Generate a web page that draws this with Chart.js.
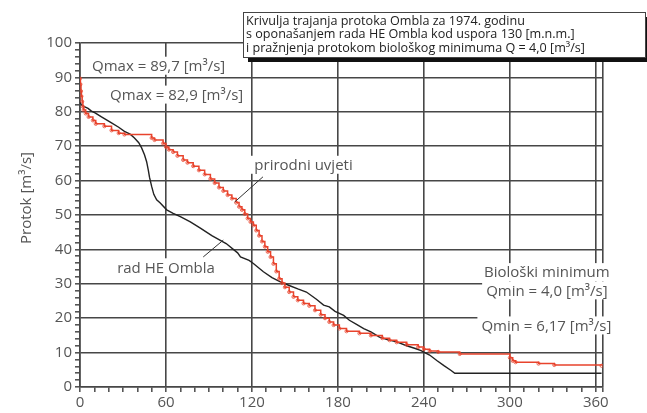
<!DOCTYPE html>
<html>
<head>
<meta charset="utf-8">
<script src="https://cdn.jsdelivr.net/npm/chart.js@4.4.1/dist/chart.umd.min.js"></script>
<style>
  html, body { margin: 0; padding: 0; background: #fff; }
  #wrap { width: 647px; height: 413px; position: relative; }
</style>
</head>
<body>
<div id="wrap"><canvas id="durationChart"></canvas></div>
<script>
// prirodni uvjeti (red, stepped) - day of year / discharge m3/s
const prirodniDays = [0, 0.3, 0.7, 1, 1.5, 2, 2.5, 4, 6, 9, 11, 17, 22, 27, 31, 50, 52, 58, 60, 62, 65, 68, 72, 75, 79, 83, 87, 91, 94, 97, 100, 103, 106, 109, 111, 113, 115, 117, 119, 121, 123, 125, 127, 129, 131, 133, 135, 137, 139, 141, 143, 146, 149, 152, 156, 160, 164, 168, 171, 174, 177, 181, 186, 195, 203, 211, 216, 221, 228, 236, 240, 244, 250, 265, 300, 302, 304, 320, 331, 364];
const prirodniQ = [89.7, 88, 86, 84.5, 83, 81.5, 80.5, 79.5, 78.5, 77.5, 76.5, 75.8, 74.6, 73.8, 73.4, 72.4, 71.8, 70.8, 69.8, 69, 68.3, 67.2, 66, 65.2, 64.2, 63, 61.8, 60.5, 59.3, 58, 57, 55.8, 54.8, 53.6, 52.4, 51.5, 50.3, 49, 48, 47, 45.5, 44, 42.3, 40.8, 39.3, 37.8, 35.8, 33.6, 31.5, 30.2, 29, 27.6, 26.2, 25.2, 24.3, 23.6, 22.3, 21, 20, 18.9, 18, 17, 16.2, 15.6, 15, 14.2, 13.6, 13, 12.3, 11.6, 11, 10.5, 10.2, 9.6, 8.5, 7.6, 7.2, 6.8, 6.4, 6.17];

// rad HE Ombla (black)
const radDays = [0, 1, 3, 5.6, 8, 10.5, 15, 22, 27, 31, 35, 38, 41, 43, 45, 46.5, 47.7, 48.5, 50, 51.5, 53.5, 56, 60.5, 65, 70, 77, 84, 92, 102, 110, 112, 118, 121, 128, 134, 139.5, 146, 152, 158, 165, 170, 174, 178, 184, 188, 193, 198, 203, 209, 215, 221, 228, 234, 238, 244, 249, 254, 259, 261.6, 364];
const radQ = [82.9, 82, 81.5, 81, 80.2, 79.7, 78.5, 76.8, 75.5, 74.3, 73.5, 72.4, 71, 69.5, 67.5, 65.5, 63, 61, 58.3, 56, 54.4, 53.5, 51.5, 50.5, 49.5, 48, 46.2, 44, 41.7, 39, 37.8, 36.8, 35.9, 33.5, 31.8, 30.6, 29.5, 28.5, 27.6, 25.5, 23.8, 23.3, 22, 20.8, 19.4, 18.2, 17, 16, 14.5, 13.7, 13.1, 12, 11.2, 10.6, 9.3, 7.7, 6.2, 4.8, 4.0, 4.0];

// axis ticks
const xMajorTicks = [0, 60, 120, 180, 240, 300, 360];
const xMinorStep = 10;
const xEnd = 365;
const yMajorTicks = [0, 10, 20, 30, 40, 50, 60, 70, 80, 90, 100];
const yMinorStep = 2;

const titleLines = [
  'Krivulja trajanja protoka Ombla za 1974. godinu',
  's oponašanjem rada HE Ombla kod uspora 130 [m.n.m.]',
  'i pražnjenja protokom biološkog minimuma Q = 4,0 [m³/s]'
];

const FONT = '"Open Sans", sans-serif';
const GRID = '#474747';
const TXT = '#555';
const RED = '#e8432c';

function pairs(xs, ys) {
  return xs.map((d, i) => ({ x: d, y: ys[i] }));
}

// text labels placed in data units
const labels = [
  { text: 'Qmax = 89,7 [m³/s]', x: 8.4, y: 93.4, align: 'left' },
  { text: 'Qmax = 82,9 [m³/s]', x: 21, y: 85, align: 'left' },
  { text: 'prirodni uvjeti', x: 156, y: 64.6, align: 'center' },
  { text: 'rad HE Ombla', x: 60, y: 34.8, align: 'center' },
  { text: 'Biološki minimum', x: 325.8, y: 33.4, align: 'center' },
  { text: 'Qmin = 4,0 [m³/s]', x: 325.8, y: 28.1, align: 'center' },
  { text: 'Qmin = 6,17 [m³/s]', x: 325.5, y: 17.9, align: 'center' }
];
const leaders = [
  [127.7, 61.1, 108, 53.8],
  [86, 37.8, 100, 42.7]
];

const annotPlugin = {
  id: 'annot',
  beforeDatasetsDraw(chart) {
    const { ctx, scales: { x, y } } = chart;
    ctx.save();
    ctx.font = '15px ' + FONT;
    ctx.textBaseline = 'middle';
    labels.forEach(l => {
      const px = x.getPixelForValue(l.x);
      const py = y.getPixelForValue(l.y);
      const w = ctx.measureText(l.text).width;
      const left = l.align === 'center' ? px - w / 2 : px;
      ctx.fillStyle = '#fff';
      ctx.fillRect(left - 4, py - 9, w + 8, 18);
      ctx.fillStyle = TXT;
      ctx.textAlign = 'left';
      ctx.fillText(l.text, left, py + 1);
    });
    ctx.restore();
  },
  afterDatasetsDraw(chart) {
    const { ctx, scales: { x, y } } = chart;
    ctx.save();
    // leader lines
    ctx.strokeStyle = '#333';
    ctx.lineWidth = 1;
    leaders.forEach(l => {
      ctx.beginPath();
      ctx.moveTo(x.getPixelForValue(l[0]), y.getPixelForValue(l[1]));
      ctx.lineTo(x.getPixelForValue(l[2]), y.getPixelForValue(l[3]));
      ctx.stroke();
    });

    // title box with shadow
    const bx = 243, by = 12, bw = 402, bh = 45;
    ctx.fillStyle = '#111';
    ctx.fillRect(bx + 5, by + 5, bw, bh);
    ctx.fillStyle = '#fff';
    ctx.fillRect(bx, by, bw, bh);
    ctx.strokeStyle = '#444';
    ctx.strokeRect(bx + 0.5, by + 0.5, bw, bh);
    ctx.fillStyle = '#222';
    ctx.font = '12.6px ' + FONT;
    ctx.textAlign = 'left';
    ctx.textBaseline = 'alphabetic';
    titleLines.forEach((t, i) => ctx.fillText(t, bx + 3, by + 13 + i * 13.3));

    // y axis title
    ctx.translate(27, 198);
    ctx.rotate(-Math.PI / 2);
    ctx.font = '15px ' + FONT;
    ctx.fillStyle = TXT;
    ctx.textAlign = 'center';
    ctx.textBaseline = 'middle';
    ctx.fillText('Protok [m³/s]', 0, 0);
    ctx.restore();
  }
};

function stepTicks(max, step, extra) {
  const out = [];
  for (let v = 0; v <= max; v += step) out.push({ value: v });
  if (extra !== undefined) out.push({ value: extra });
  return out;
}

new Chart(document.getElementById('durationChart'), {
  type: 'line',
  data: {
    datasets: [{
      label: 'prirodni uvjeti',
      data: pairs(prirodniDays, prirodniQ),
      borderColor: RED,
      borderWidth: 1.5,
      stepped: true,
      pointRadius: 1.6,
      pointBorderWidth: 1,
      pointBackgroundColor: 'rgba(255,255,255,0)',
      pointBorderColor: 'rgba(232,67,44,0.75)',
      fill: false
    }, {
      label: 'rad HE Ombla',
      data: pairs(radDays, radQ),
      borderColor: '#222',
      borderWidth: 1.4,
      pointRadius: 0,
      tension: 0,
      fill: false
    }]
  },
  options: {
    responsive: true,
    maintainAspectRatio: false,
    animation: false,
    layout: { padding: { left: 0, right: 44, top: 43, bottom: 0 } },
    plugins: { legend: { display: false }, tooltip: { enabled: false } },
    scales: {
      x: {
        type: 'linear',
        min: 0,
        max: xEnd,
        afterBuildTicks: s => { s.ticks = stepTicks(360, xMinorStep, xEnd); },
        afterFit: s => { s.height = 26; },
        grid: {
          color: c => (xMajorTicks.includes(c.tick.value) || c.tick.value === xEnd) ? GRID : 'rgba(0,0,0,0)',
          tickColor: TXT,
          lineWidth: 1.6,
          tickLength: 5
        },
        border: { color: GRID, width: 1.6 },
        ticks: {
          autoSkip: false,
          maxRotation: 0,
          padding: 2,
          color: TXT,
          font: { size: 15, family: FONT },
          callback: v => xMajorTicks.includes(v) ? String(v) : ''
        }
      },
      y: {
        min: 0,
        max: 100,
        afterBuildTicks: s => { s.ticks = stepTicks(100, yMinorStep); },
        afterFit: s => { s.width = 80; },
        grid: {
          color: c => yMajorTicks.includes(c.tick.value) ? GRID : 'rgba(0,0,0,0)',
          tickColor: TXT,
          lineWidth: 1.6,
          tickLength: 5
        },
        border: { color: GRID, width: 1.6 },
        ticks: {
          autoSkip: false,
          padding: 3,
          color: TXT,
          font: { size: 15, family: FONT },
          callback: v => yMajorTicks.includes(v) ? String(v) : ''
        }
      }
    }
  },
  plugins: [annotPlugin]
});
</script>
</body>
</html>
